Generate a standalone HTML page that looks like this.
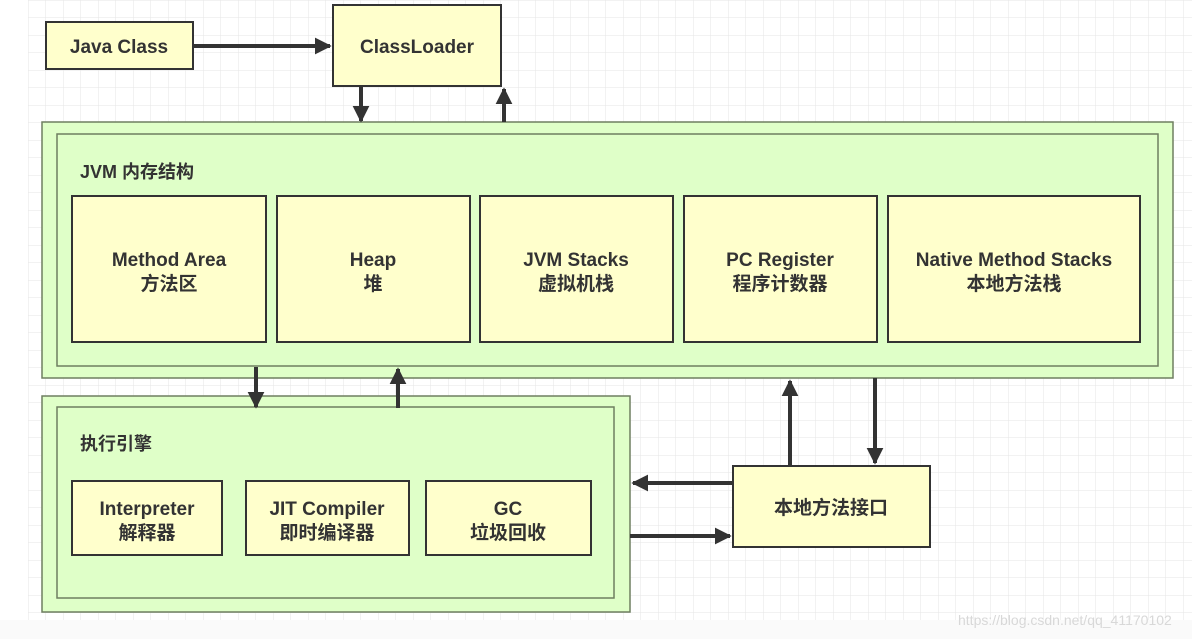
<!DOCTYPE html>
<html><head><meta charset="utf-8"><style>
html,body{margin:0;padding:0;background:#fff;}
svg{display:block}
text{font-family:"Liberation Sans","Noto Sans CJK SC",sans-serif;font-weight:bold;fill:#333;}
</style></head><body>
<svg width="1192" height="639" viewBox="0 0 1192 639" xmlns="http://www.w3.org/2000/svg">
<defs>
<pattern id="g" x="28" y="0" width="17.5" height="17.5" patternUnits="userSpaceOnUse">
<path d="M0 0H17.5M0 0V17.5" stroke="#e6e6e6" stroke-width="1" fill="none"/>
</pattern>
<marker id="a" viewBox="0 0 10 10" refX="9" refY="5" markerWidth="4.2" markerHeight="4.2" orient="auto"><path d="M0 0L10 5L0 10z" fill="#333"/></marker>
</defs>
<rect x="28" y="0" width="1164" height="620" fill="url(#g)"/>
<rect x="0" y="620" width="1192" height="19" fill="#fafafa"/>
<g stroke="#333" stroke-width="2" fill="#ffffcc">
<rect x="46" y="22" width="147" height="47"/>
<rect x="333" y="5" width="168" height="81"/>
</g>
<g stroke="#6f7f60" stroke-width="1.5" fill="#dfffc8">
<rect x="42" y="122" width="1131" height="256"/>
<rect x="57" y="134" width="1101" height="232"/>
<rect x="42" y="396" width="588" height="216"/>
<rect x="57" y="407" width="557" height="191"/>
</g>
<g stroke="#333" stroke-width="2" fill="#ffffcc">
<rect x="72" y="196" width="194" height="146"/>
<rect x="277" y="196" width="193" height="146"/>
<rect x="480" y="196" width="193" height="146"/>
<rect x="684" y="196" width="193" height="146"/>
<rect x="888" y="196" width="252" height="146"/>
<rect x="72" y="481" width="150" height="74"/>
<rect x="246" y="481" width="163" height="74"/>
<rect x="426" y="481" width="165" height="74"/>
<rect x="733" y="466" width="197" height="81"/>
</g>
<g stroke="#333" stroke-width="4" fill="none" marker-end="url(#a)">
<line x1="193" y1="46" x2="330" y2="46"/>
<line x1="361" y1="87" x2="361" y2="121"/>
<line x1="504" y1="122" x2="504" y2="89"/>
<line x1="256" y1="367" x2="256" y2="407"/>
<line x1="398" y1="408" x2="398" y2="369"/>
<line x1="790" y1="466" x2="790" y2="381"/>
<line x1="875" y1="378" x2="875" y2="463"/>
<line x1="733" y1="483" x2="633" y2="483"/>
<line x1="630" y1="536" x2="730" y2="536"/>
</g>
<g font-size="19" text-anchor="middle">
<text x="119" y="53">Java Class</text>
<text x="417" y="53">ClassLoader</text>
<text x="169" y="266">Method Area</text><text x="169" y="290">方法区</text>
<text x="373" y="266">Heap</text><text x="373" y="290">堆</text>
<text x="576" y="266">JVM Stacks</text><text x="576" y="290">虚拟机栈</text>
<text x="780" y="266">PC Register</text><text x="780" y="290">程序计数器</text>
<text x="1014" y="266">Native Method Stacks</text><text x="1014" y="290">本地方法栈</text>
<text x="147" y="515">Interpreter</text><text x="147" y="539">解释器</text>
<text x="327" y="515">JIT Compiler</text><text x="327" y="539">即时编译器</text>
<text x="508" y="515">GC</text><text x="508" y="539">垃圾回收</text>
<text x="831" y="514">本地方法接口</text>
</g>
<text x="80" y="178" font-size="18">JVM 内存结构</text>
<text x="80" y="450" font-size="18">执行引擎</text>
<text x="958" y="625" font-size="14" style="font-weight:normal;fill:#d8d8d8">https://blog.csdn.net/qq_41170102</text>
</svg>
</body></html>
